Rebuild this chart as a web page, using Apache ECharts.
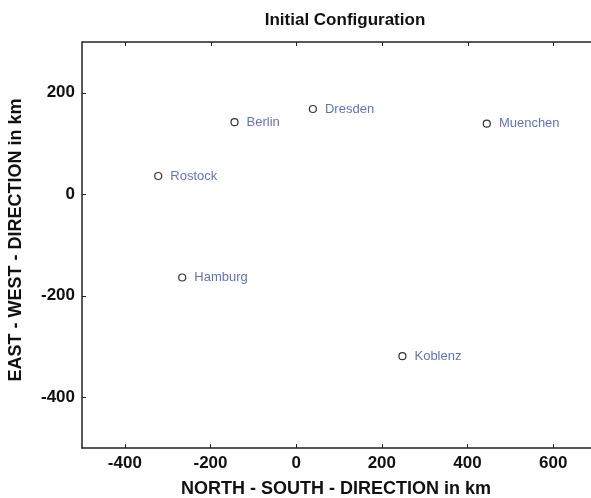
<!DOCTYPE html>
<html><head><meta charset="utf-8">
<script src="https://cdn.jsdelivr.net/npm/echarts@6/dist/echarts.min.js"></script>
<style>html,body{margin:0;padding:0;background:#fff}#c{width:591px;height:498px}</style>
</head><body><div id="c"></div>
<script>
const cities = ['Berlin','Dresden','Rostock','Muenchen','Hamburg','Koblenz'];
const xs = [-144, 39, -322, 445, -266, 248];
const ys = [142, 168, 36, 139, -164, -319];
const xTicks = [-400,-200,0,200,400,600];
const yTicks = [-400,-200,0,200];

const chart = echarts.init(document.getElementById('c'), null, {renderer:'canvas'});
const font = 'Liberation Sans, Arial, Helvetica, sans-serif';
const axisCommon = {
  axisLine:{show:true, onZero:false, lineStyle:{color:'#222', width:1.5}},
  splitLine:{show:false}
};
chart.setOption({
  animation:false,
  title:{text:'Initial Configuration', left:340, top:7, textAlign:'center',
    textStyle:{fontFamily:font, fontSize:17, fontWeight:'bold', color:'#111'}},
  grid:{left:82, right:-5, top:42, bottom:50, containLabel:false, outerBoundsMode:'none'},
  xAxis:Object.assign({type:'value', min:-500, max:700,
    name:'NORTH - SOUTH - DIRECTION in km', nameLocation:'middle', nameGap:32,
    nameTextStyle:{fontFamily:font, fontSize:18, fontWeight:'bold', color:'#111', padding:[0,6,0,0]},
    axisTick:{show:true, inside:true, length:4, customValues:xTicks, lineStyle:{color:'#222'}},
    axisLabel:{fontFamily:font, fontSize:17, fontWeight:'bold', color:'#111', margin:7,
      customValues:xTicks}}, axisCommon),
  yAxis:Object.assign({type:'value', min:-500, max:300,
    name:'EAST - WEST - DIRECTION in km', nameLocation:'middle', nameGap:57, nameRotate:90,
    nameTextStyle:{fontFamily:font, fontSize:18, fontWeight:'bold', color:'#111', padding:[0,0,0,10]},
    axisTick:{show:true, inside:true, length:4, customValues:yTicks, lineStyle:{color:'#222'}},
    axisLabel:{fontFamily:font, fontSize:17, fontWeight:'bold', color:'#111', margin:7,
      customValues:yTicks}}, axisCommon),
  series:[{
    type:'scatter',
    data: cities.map((n,i)=>({name:n, value:[xs[i], ys[i]]})),
    symbol:'circle', symbolSize:7,
    itemStyle:{color:'#fff', borderColor:'#000', borderWidth:1.2},
    label:{show:true, position:'right', distance:8, formatter:p=>p.name,
      fontFamily:font, fontSize:13, color:'#3a4db3'}
  }]
});
// top border and mirrored ticks, positioned through the axis scale
const topY = chart.convertToPixel({yAxisIndex:0}, 300);
const leftX = chart.convertToPixel({xAxisIndex:0}, -500);
const rightX = chart.convertToPixel({xAxisIndex:0}, 700);
const g = [{type:'line', shape:{x1:leftX, y1:topY, x2:rightX, y2:topY}, style:{stroke:'#222', lineWidth:1.5}}];
xTicks.forEach(v=>{const p=Math.round(chart.convertToPixel({xAxisIndex:0},v))+0.5;
  g.push({type:'line', shape:{x1:p,y1:topY,x2:p,y2:topY+4}, style:{stroke:'#222', lineWidth:1}});});
chart.setOption({graphic:g});
</script></body></html>
